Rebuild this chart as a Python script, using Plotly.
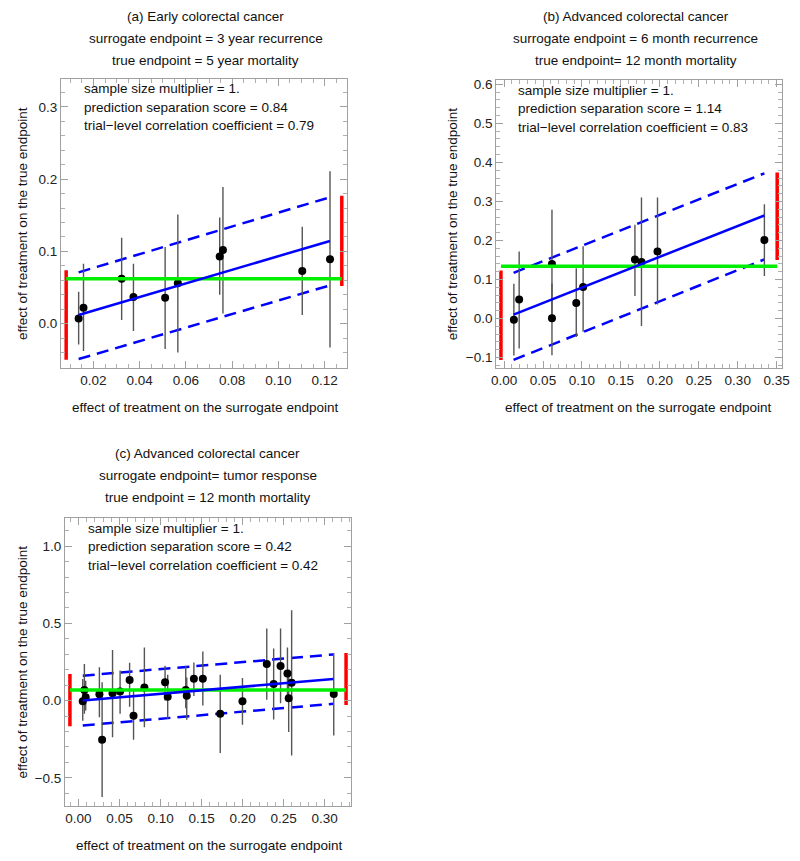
import plotly.graph_objects as go

# ---------------- data ----------------
# (a) Early colorectal cancer
a_x = [0.0136, 0.0157, 0.0322, 0.0373, 0.0510, 0.0565, 0.0746, 0.0760, 0.1103, 0.1223]
a_y = [0.007, 0.022, 0.062, 0.037, 0.036, 0.056, 0.093, 0.102, 0.073, 0.089]
a_lo = [-0.029, -0.038, 0.005, -0.010, -0.035, -0.040, 0.040, 0.014, 0.012, -0.033]
a_hi = [0.044, 0.083, 0.119, 0.083, 0.106, 0.151, 0.147, 0.189, 0.134, 0.211]
a_fit_x = [0.0136, 0.1223]
a_fit_y = [0.012, 0.1145]
a_up_y = [0.071, 0.175]
a_dn_y = [-0.049, 0.053]
a_null_x = [0.0082, 0.1274]
a_null_y = 0.062
a_red_left = [-0.050, 0.074]
a_red_right = [0.052, 0.177]

# (b) Advanced colorectal cancer, 6 month recurrence
b_x = [0.0126, 0.0194, 0.0615, 0.0615, 0.0927, 0.1015, 0.168, 0.1764, 0.197, 0.3342]
b_y = [-0.003, 0.049, 0.140, 0.001, 0.040, 0.081, 0.151, 0.145, 0.172, 0.201]
b_lo = [-0.095, -0.077, 0.000, -0.094, -0.047, -0.034, 0.058, -0.019, 0.036, 0.109]
b_hi = [0.089, 0.172, 0.279, 0.090, 0.129, 0.185, 0.240, 0.310, 0.310, 0.293]
b_fit_x = [0.0122, 0.3342]
b_fit_y = [0.0102, 0.264]
b_up_y = [0.117, 0.372]
b_dn_y = [-0.106, 0.1515]
b_null_x = [-0.004, 0.3506]
b_null_y = 0.134
b_red_left = [-0.106, 0.123]
b_red_right = [0.150, 0.374]

# (c) Advanced colorectal cancer, tumor response
c_x = [0.0052, 0.0072, 0.0088, 0.0255, 0.0288, 0.0415, 0.0507, 0.0623, 0.0671, 0.0803,
       0.1055, 0.1087, 0.1307, 0.1319, 0.1406, 0.1515, 0.1727, 0.1998, 0.2294, 0.2378,
       0.2462, 0.2546, 0.2561, 0.2597, 0.3110]
c_y = [-0.004, 0.069, 0.021, 0.041, -0.254, 0.047, 0.058, 0.133, -0.099, 0.084,
       0.118, 0.024, 0.069, 0.032, 0.142, 0.142, -0.086, -0.004, 0.237, 0.108,
       0.224, 0.176, 0.015, 0.116, 0.043]
c_lo = [-0.130, -0.086, -0.065, -0.108, -0.624, -0.237, -0.086, -0.040, -0.254, -0.172,
        0.000, -0.118, -0.050, -0.125, 0.030, -0.032, -0.340, -0.157, 0.006, -0.123,
        -0.017, 0.020, -0.204, -0.355, -0.226]
c_hi = [0.140, 0.237, 0.129, 0.215, 0.118, 0.327, 0.194, 0.245, 0.075, 0.344,
        0.226, 0.168, 0.226, 0.150, 0.247, 0.318, 0.168, 0.146, 0.467, 0.338,
        0.467, 0.344, 0.200, 0.585, 0.308]
c_fit_x = [0.0052, 0.3106]
c_fit_y = [0.000, 0.140]
c_up_y = [0.161, 0.299]
c_dn_y = [-0.161, -0.021]
c_null_x = [-0.0104, 0.3260]
c_null_y = 0.069
c_red_left = [-0.166, 0.172]
c_red_right = [-0.028, 0.308]

titles = [
    ["(a) Early colorectal cancer", "surrogate endpoint = 3 year recurrence", "true endpoint = 5 year mortality"],
    ["(b) Advanced colorectal cancer", "surrogate endpoint = 6 month recurrence", "true endpoint= 12 month mortality"],
    ["(c) Advanced colorectal cancer", "surrogate endpoint= tumor response", "true endpoint = 12 month mortality"],
]
stats = [
    ["sample size multiplier = 1.", "prediction separation score = 0.84", "trial\u2212level correlation coefficient = 0.79"],
    ["sample size multiplier = 1.", "prediction separation score = 1.14", "trial\u2212level correlation coefficient = 0.83"],
    ["sample size multiplier = 1.", "prediction separation score = 0.42", "trial\u2212level correlation coefficient = 0.42"],
]
xlabel = "effect of treatment on the surrogate endpoint"
ylabel = "effect of treatment on the true endpoint"

W, H = 800, 861
FONT = "Liberation Sans, Arial, sans-serif"

fig = go.Figure()

panels = [
    dict(x=a_x, y=a_y, lo=a_lo, hi=a_hi, fx=a_fit_x, fy=a_fit_y, up=a_up_y, dn=a_dn_y,
         nx=a_null_x, ny=a_null_y, rl=a_red_left, rr=a_red_right, xa="x", ya="y"),
    dict(x=b_x, y=b_y, lo=b_lo, hi=b_hi, fx=b_fit_x, fy=b_fit_y, up=b_up_y, dn=b_dn_y,
         nx=b_null_x, ny=b_null_y, rl=b_red_left, rr=b_red_right, xa="x2", ya="y2"),
    dict(x=c_x, y=c_y, lo=c_lo, hi=c_hi, fx=c_fit_x, fy=c_fit_y, up=c_up_y, dn=c_dn_y,
         nx=c_null_x, ny=c_null_y, rl=c_red_left, rr=c_red_right, xa="x3", ya="y3"),
]

for p in panels:
    xa, ya = p["xa"], p["ya"]
    # red bars
    fig.add_trace(go.Scatter(x=[p["nx"][0]] * 2, y=p["rl"], mode="lines",
                             line=dict(color="#ff0000", width=3.5), xaxis=xa, yaxis=ya, showlegend=False))
    fig.add_trace(go.Scatter(x=[p["nx"][1]] * 2, y=p["rr"], mode="lines",
                             line=dict(color="#ff0000", width=3.5), xaxis=xa, yaxis=ya, showlegend=False))
    # dashed bounds
    fig.add_trace(go.Scatter(x=p["fx"], y=p["up"], mode="lines",
                             line=dict(color="#0000ff", width=2.5, dash="12px,7px"),
                             xaxis=xa, yaxis=ya, showlegend=False))
    fig.add_trace(go.Scatter(x=p["fx"], y=p["dn"], mode="lines",
                             line=dict(color="#0000ff", width=2.5, dash="12px,7px"),
                             xaxis=xa, yaxis=ya, showlegend=False))
    # error bars + points
    ep = [h - v for h, v in zip(p["hi"], p["y"])]
    em = [v - l for v, l in zip(p["y"], p["lo"])]
    fig.add_trace(go.Scatter(x=p["x"], y=p["y"], mode="markers",
                             marker=dict(color="black", size=8),
                             error_y=dict(type="data", symmetric=False, array=ep, arrayminus=em,
                                          color="#555555", thickness=1.4, width=0),
                             xaxis=xa, yaxis=ya, showlegend=False))
    # green null line
    fig.add_trace(go.Scatter(x=p["nx"], y=[p["ny"]] * 2, mode="lines",
                             line=dict(color="#00ee00", width=3.5), xaxis=xa, yaxis=ya, showlegend=False))
    # regression line
    fig.add_trace(go.Scatter(x=p["fx"], y=p["fy"], mode="lines",
                             line=dict(color="#0000ff", width=2.5), xaxis=xa, yaxis=ya, showlegend=False))


def ax(domain, rng, dtick, fmt, minor_dtick, tick0=0):
    return dict(domain=domain, range=rng, dtick=dtick, tick0=tick0, tickformat=fmt,
                showgrid=False, zeroline=False, showline=True, linecolor="#a0a0a0", linewidth=1,
                mirror="allticks", ticks="inside", ticklen=7, tickcolor="#a0a0a0", tickwidth=1,
                tickfont=dict(family=FONT, size=13.5, color="#222222"),
                minor=dict(dtick=minor_dtick, tick0=tick0, ticks="inside", ticklen=4,
                           tickcolor="#b0b0b0", tickwidth=1, showgrid=False))


def ydom(top, bottom):
    return [1 - bottom / H, 1 - top / H]


fig.update_layout(
    width=W, height=H, margin=dict(l=0, r=0, t=0, b=0),
    paper_bgcolor="white", plot_bgcolor="white", showlegend=False,
    xaxis=ax([57 / W, 348 / W], [0.006, 0.1298], 0.02, ".2f", 0.005),
    yaxis=ax(ydom(76, 366), [-0.061, 0.339], 0.1, ".1f", 0.02),
    xaxis2=ax([499.3 / W, 790 / W], [-0.0101, 0.357], 0.05, ".2f", 0.01),
    yaxis2=ax(ydom(77.3, 366), [-0.126, 0.611], 0.1, ".1f", 0.02),
    xaxis3=ax([61 / W, 351.7 / W], [-0.0164, 0.332], 0.05, ".2f", 0.01),
    yaxis3=ax(ydom(516.7, 806), [-0.684, 1.183], 0.5, ".1f", 0.1),
)
fig.layout.xaxis2.anchor = "y2"
fig.layout.yaxis2.anchor = "x2"
fig.layout.xaxis3.anchor = "y3"
fig.layout.yaxis3.anchor = "x3"

ann = []
txtfont = dict(family=FONT, size=13.5, color="#111111")
# titles: (center x px, first line y px)
title_pos = [(204, 13.5), (641, 13.5), (206, 452.5)]
for (cx, ty), lines in zip(title_pos, titles):
    for i, t in enumerate(lines):
        ann.append(dict(x=cx / W, y=1 - (ty + 22 * i) / H, xref="paper", yref="paper", text=t,
                        showarrow=False, xanchor="center", yanchor="middle", font=txtfont))
# stats text: (left x px, first line y px)
stat_pos = [(78, 86), (519, 87.5), (82, 527)]
for (lx, ty), lines in zip(stat_pos, stats):
    for i, t in enumerate(lines):
        ann.append(dict(x=lx / W, y=1 - (ty + 18.5 * i) / H, xref="paper", yref="paper", text=t,
                        showarrow=False, xanchor="left", yanchor="middle", font=txtfont))
# axis titles
xl_pos = [(203, 406), (643, 406), (207, 845.5)]
for cx, cy in xl_pos:
    ann.append(dict(x=cx / W, y=1 - cy / H, xref="paper", yref="paper", text=xlabel,
                    showarrow=False, xanchor="center", yanchor="middle", font=txtfont))
yl_pos = [(18, 221), (455, 221.5), (18, 661)]
for cx, cy in yl_pos:
    ann.append(dict(x=cx / W, y=1 - cy / H, xref="paper", yref="paper", text=ylabel,
                    showarrow=False, xanchor="center", yanchor="middle", textangle=-90, font=txtfont))
fig.update_layout(annotations=ann)

fig.write_html("out.html",
               config={"displayModeBar": False},
               post_script="document.body.style.margin='0';document.body.style.padding='0';"
                           "document.documentElement.style.overflow='hidden';")
